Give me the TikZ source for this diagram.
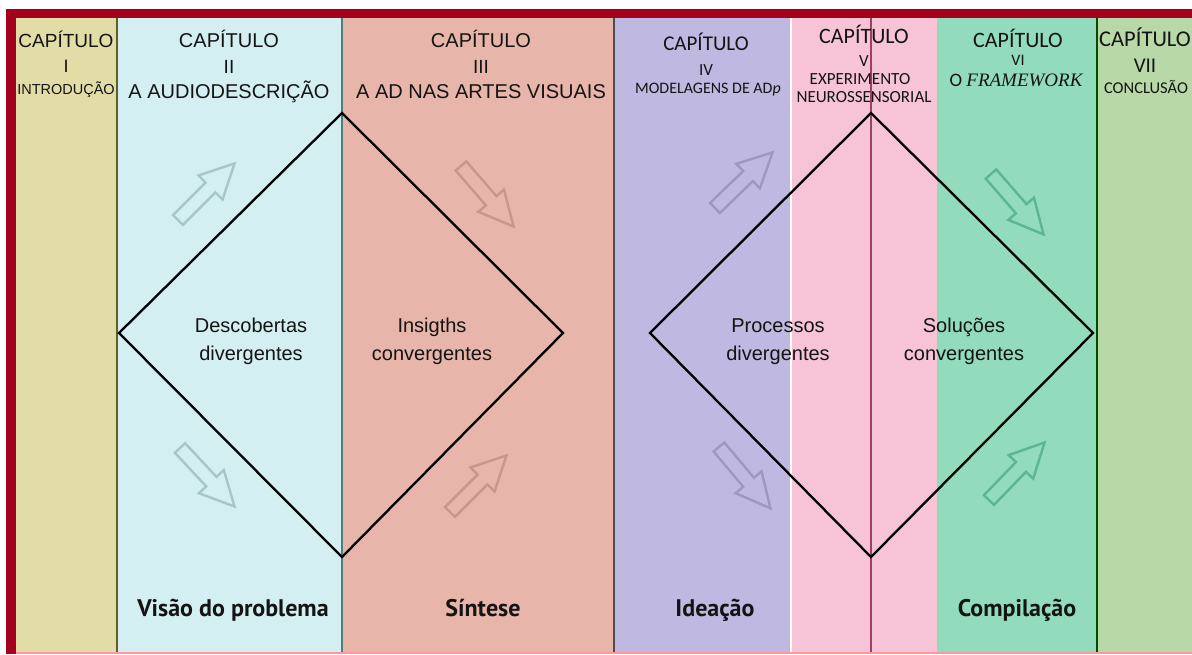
\documentclass[tikz,border=0pt]{standalone}
\usepackage{fontspec}
\setmainfont{Liberation Sans}
\newfontfamily\calib{Carlito}
\newfontfamily\ptsans{PT Sans}
\newfontfamily\timesf{Liberation Serif}
\usetikzlibrary{positioning}

\definecolor{borderred}{HTML}{A3001E}
\definecolor{bandI}{HTML}{E2DCA6}
\definecolor{bandII}{HTML}{D3EFF2}
\definecolor{bandIII}{HTML}{E7B5A9}
\definecolor{bandIV}{HTML}{BFB9E1}
\definecolor{bandV}{HTML}{F6C3D7}
\definecolor{bandVI}{HTML}{92DCBD}
\definecolor{bandVII}{HTML}{B8D9A7}
\definecolor{arrII}{HTML}{A7C6C9}
\definecolor{arrIII}{HTML}{C8968C}
\definecolor{arrIV}{HTML}{9D97C2}
\definecolor{arrVI}{HTML}{5DB591}
\definecolor{inktext}{HTML}{141414}

\tikzset{
  pics/hollowarrow/.style={code={
    \draw[#1, line width=2.4pt, line join=miter]
      (0,-7) -- (46,-7) -- (46,-17) -- (80,0) -- (46,17) -- (46,7) -- (0,7) -- cycle;
  }},
  hdr/.style={anchor=base, inner sep=0pt, text=inktext},
  body/.style={anchor=base, inner sep=0pt, text=inktext, font=\fontsize{20}{20}\selectfont},
  phase/.style={anchor=base, inner sep=0pt, text=inktext, font=\ptsans\bfseries\fontsize{24}{24}\selectfont},
}

\begin{document}
\begin{tikzpicture}[x=1pt, y=-1pt]
  \useasboundingbox (0,0) rectangle (1192,654);
  \fill[white] (0,0) rectangle (1192,654);

  \fill[bandI]   (16,18) rectangle (117,652);
  \fill[bandII]  (117,18) rectangle (342,652);
  \fill[bandIII] (342,18) rectangle (614,652);
  \fill[bandIV]  (614,18) rectangle (791,652);
  \fill[bandV]   (791,18) rectangle (937,652);
  \fill[bandVI]  (937,18) rectangle (1097,652);
  \fill[bandVII] (1097,18) rectangle (1192,652);
  \fill[pink!80!red] (16,651.5) rectangle (1192,653.5);

  \draw[line width=2pt, olive!60!black] (117,18) -- (117,652);
  \draw[line width=2pt, teal!40!gray] (342,18) -- (342,652);
  \draw[line width=2pt, black!70] (614,18) -- (614,652);
  \draw[line width=1.5pt, white] (791,18) -- (791,652);
  \draw[line width=2pt, green!30!black] (1097,18) -- (1097,652);
  \draw[line width=2pt, violet!50!brown] (871,18) -- (871,652);

  \fill[borderred] (6,9) rectangle (1192,18);
  \fill[borderred] (6,9) rectangle (16,654);

  \pic[rotate=45]  at (178,220) {hollowarrow=arrII};
  \pic[rotate=-47] at (180,448) {hollowarrow=arrII};
  \pic[rotate=-49] at (461,166) {hollowarrow=arrIII};
  \pic[rotate=45]  at (450,512) {hollowarrow=arrIII};
  \pic[rotate=44]  at (715,208) {hollowarrow=arrIV};
  \pic[rotate=-50] at (719,447) {hollowarrow=arrIV};
  \pic[rotate=-49] at (991,174) {hollowarrow=arrVI};
  \pic[rotate=46]  at (989,500) {hollowarrow=arrVI};

  \draw[line width=2.3pt, line join=miter]
    (342,113) coordinate (top1)
    -- (563,333) coordinate (right1)
    -- (342,557) coordinate (bottom1)
    -- (119,333) coordinate (left1)
    -- cycle
  ;
  \draw[line width=2.3pt, line join=miter]
    (871,113) coordinate (top2)
    -- (1093,333) coordinate (right2)
    -- (871,557) coordinate (bottom2)
    -- (650,333) coordinate (left2)
    -- cycle
  ;

  \node[hdr, font=\fontsize{19}{19}\selectfont] (capI) at (66,47) {CAPÍTULO};
  \node[hdr, font=\fontsize{18}{18}\selectfont] (numI) at (66,72) {I};
  \node[hdr, font=\fontsize{14.5}{14.5}\selectfont] (titI) at (66,94) {INTRODUÇÃO};

  \node[hdr, font=\fontsize{20}{20}\selectfont] (capII) at (229,47) {CAPÍTULO};
  \node[hdr, font=\fontsize{19}{19}\selectfont] (numII) at (229,73) {II};
  \node[hdr, font=\fontsize{20}{20}\selectfont] (titII) at (229,98) {A AUDIODESCRIÇÃO};

  \node[hdr, font=\fontsize{20}{20}\selectfont] (capIII) at (481,47) {CAPÍTULO};
  \node[hdr, font=\fontsize{19}{19}\selectfont] (numIII) at (481,73) {III};
  \node[hdr, font=\fontsize{20}{20}\selectfont] (titIII) at (481,98) {A AD NAS ARTES VISUAIS};

  \node[hdr, font=\calib\fontsize{21}{21}\selectfont] (capIV) at (706,50) {CAPÍTULO};
  \node[hdr, font=\calib\fontsize{17}{17}\selectfont] (numIV) at (706,75) {IV};
  \node[hdr, font=\calib\fontsize{16}{16}\selectfont] (titIV) at (708,93) {MODELAGENS DE AD\textit{p}};

  \node[hdr, font=\calib\fontsize{22}{22}\selectfont] (capV) at (864,43) {CAPÍTULO};
  \node[hdr, font=\calib\fontsize{17}{17}\selectfont] (numV) at (864,66) {V};
  \node[hdr, font=\calib\fontsize{17}{17}\selectfont] (titVa) at (860,84) {EXPERIMENTO};
  \node[hdr, font=\calib\fontsize{17}{17}\selectfont] (titVb) at (864,102) {NEUROSSENSORIAL};

  \node[hdr, font=\calib\fontsize{22}{22}\selectfont] (capVI) at (1018,47) {CAPÍTULO};
  \node[hdr, font=\calib\fontsize{16}{16}\selectfont] (numVI) at (1018,65) {VI};
  \node[hdr, font=\calib\fontsize{19}{19}\selectfont] (titVI) at (1016,86) {O {\timesf\itshape FRAMEWORK}};

  \node[hdr, font=\calib\fontsize{22.5}{22.5}\selectfont] (capVII) at (1145,46) {CAPÍTULO};
  \node[hdr, font=\calib\fontsize{21}{21}\selectfont] (numVII) at (1145,72) {VII};
  \node[hdr, font=\calib\fontsize{16.5}{16.5}\selectfont] (titVII) at (1146,93) {CONCLUSÃO};

  \node[body] (disc1) at (251,332) {Descobertas};
  \node[body] (disc2) at (251,360) {divergentes};
  \node[body] (ins1) at (432,332) {Insigths};
  \node[body] (ins2) at (432,360) {convergentes};
  \node[body] (proc1) at (778,332) {Processos};
  \node[body] (proc2) at (778,360) {divergentes};
  \node[body] (sol1) at (964,332) {Soluções};
  \node[body] (sol2) at (964,360) {convergentes};

  \node[phase] (vision) at (233,616) {Visão do problema};
  \node[phase] (synth) at (483,616) {Síntese};
  \node[phase] (idea) at (715,616) {Ideação};
  \node[phase] (comp) at (1017,616) {Compilação};
\end{tikzpicture}
\end{document}
